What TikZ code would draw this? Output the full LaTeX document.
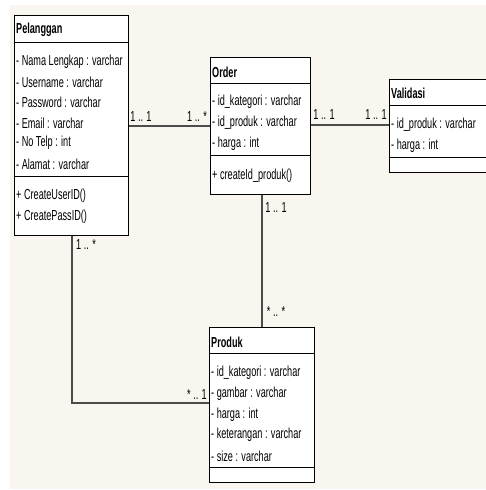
\documentclass[tikz,border=0pt]{standalone}
\usepackage{fontspec}
\setmainfont{Liberation Sans}[FakeStretch=0.63]
\usetikzlibrary{positioning}

\definecolor{paper}{HTML}{F9F6F0}

\tikzset{
  classbox/.style={draw=black, line width=1pt, fill=white, inner sep=0pt},
  attr/.style={anchor=west, inner sep=0pt, font=\fontsize{14.5}{17}\selectfont},
  title/.style={attr, font=\fontsize{14.5}{17}\selectfont\bfseries},
  mult/.style={inner sep=0pt, font=\fontsize{14.5}{17}\selectfont},
  assoc/.style={draw=black!70, line width=1.3pt}
}

\begin{document}
\begin{tikzpicture}[x=1pt,y=-1pt]

\useasboundingbox (0,0) rectangle (486,490);
\fill[paper] (10,5) rectangle (486,489);

% associations first, boxes on top
\coordinate (c1) at (72,403);
\draw[assoc] (14,126) -- (310,126);
\draw[assoc] (210,125) -- (389,125);
\draw[assoc] (262,194) -- (262,327);
\draw[assoc] (72,235) -- (c1) -- (209,403);

% Pelanggan
\node[classbox, minimum width=114pt, minimum height=220pt] (pel) at (71,125) {};
\draw (pel.west |- 0,42) -- (pel.east |- 0,42);
\draw (pel.west |- 0,176) -- (pel.east |- 0,176);
\node[title] (pel-t) at (16,30) {Pelanggan};
\node[attr] (pel-a1) at (16,62) {- Nama Lengkap : varchar};
\node[attr] (pel-a2) at (16,82) {- Username : varchar};
\node[attr] (pel-a3) at (16,102) {- Password : varchar};
\node[attr] (pel-a4) at (16,123) {- Email : varchar};
\node[attr] (pel-a5) at (16,143) {- No Telp : int};
\node[attr] (pel-a6) at (16,164) {- Alamat : varchar};
\node[attr] (pel-m1) at (16,196) {+ CreateUserID()};
\node[attr] (pel-m2) at (16,217) {+ CreatePassID()};

% Order
\node[classbox, minimum width=100pt, minimum height=137pt] (ord) at (260,125.5) {};
\draw (ord.west |- 0,83) -- (ord.east |- 0,83);
\draw (ord.west |- 0,155) -- (ord.east |- 0,155);
\node[title] (ord-t) at (212,72) {Order};
\node[attr] (ord-a1) at (212,102) {- id\_kategori : varchar};
\node[attr] (ord-a2) at (212,123) {- id\_produk : varchar};
\node[attr] (ord-a3) at (212,144) {- harga : int};
\node[attr] (ord-m1) at (212,176) {+ createId\_produk()};

% Validasi
\node[classbox, minimum width=103pt, minimum height=93pt] (val) at (440.5,125.5) {};
\draw (val.west |- 0,105) -- (val.east |- 0,105);
\draw (val.west |- 0,157) -- (val.east |- 0,157);
\node[title] (val-t) at (391,93) {Validasi};
\node[attr] (val-a1) at (391,125) {- id\_produk : varchar};
\node[attr] (val-a2) at (391,146) {- harga : int};

% Produk
\node[classbox, minimum width=105pt, minimum height=155pt] (prd) at (261.5,404.5) {};
\draw (prd.west |- 0,353) -- (prd.east |- 0,353);
\draw (prd.west |- 0,467) -- (prd.east |- 0,467);
\node[title] (prd-t) at (211,342) {Produk};
\node[attr] (prd-a1) at (211,373) {- id\_kategori : varchar};
\node[attr] (prd-a2) at (211,394) {- gambar : varchar};
\node[attr] (prd-a3) at (211,415) {- harga : int};
\node[attr] (prd-a4) at (211,435) {- keterangan : varchar};
\node[attr] (prd-a5) at (211,456) {- size : varchar};

% multiplicities
\node[mult] (m1) at (141,117) {1 .. 1};
\node[mult] (m2) at (197,117) {1 .. *};
\node[mult] (m3) at (324,115) {1 .. 1};
\node[mult] (m4) at (376,115) {1 .. 1};
\node[mult] (m5) at (276,208) {1 .. 1};
\node[mult] (m6) at (276,312) {* .. *};
\node[mult] (m7) at (86,245) {1 .. *};
\node[mult] (m8) at (197,395) {* .. 1};

\end{tikzpicture}
\end{document}
